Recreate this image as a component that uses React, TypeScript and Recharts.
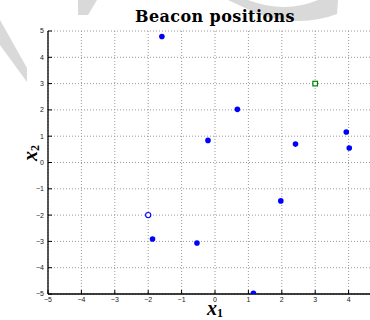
import { ScatterChart, Scatter, XAxis, YAxis, CartesianGrid } from "recharts"

// beacon positions
const beaconX = [-1.59, 0.67, -0.21, 2.41, 3.93, 4.02, 1.97, -1.87, -0.54, 1.15]
const beaconY = [4.79, 2.02, 0.84, 0.7, 1.16, 0.55, -1.46, -2.91, -3.06, -4.97]
const startX = [-2]
const startY = [-2]
const targetX = [3]
const targetY = [3]
const axisTicks = [-5, -4, -3, -2, -1, 0, 1, 2, 3, 4, 5]
// the x = 5 column falls outside the cropped figure
const xTicks = [-5, -4, -3, -2, -1, 0, 1, 2, 3, 4]

const toPoints = (xs: number[], ys: number[]) => xs.map((x, i) => ({ x, y: ys[i] }))

const beacons = toPoints(beaconX, beaconY)
const start = toPoints(startX, startY)
const target = toPoints(targetX, targetY)

const tickStyle = { fontSize: 7, fill: "#222", fontFamily: "Liberation Sans, Arial, sans-serif" }
const fmt = (v: number) => (v < 0 ? "\u2212" + Math.abs(v) : String(v))

const Dot = (props: any) => <circle cx={props.cx} cy={props.cy} r={2.8} fill="#0000ff" />
const OpenDot = (props: any) => (
  <circle cx={props.cx} cy={props.cy} r={2.6} fill="#fff" stroke="#0000ff" strokeWidth={1.1} />
)
const Square = (props: any) => (
  <rect x={props.cx - 2.3} y={props.cy - 2.3} width={4.6} height={4.6} fill="#fff" stroke="#008000" strokeWidth={1.2} />
)

const labelFont = { fontFamily: "Liberation Serif, serif", fontWeight: "bold" as const }

export default function App() {
  return (
    <div style={{ position: "fixed", left: 0, top: 0, width: 370, height: 320, overflow: "hidden", background: "#fff" }}>
      {/* faint watermark behind the figure */}
      <svg width={370} height={320} style={{ position: "absolute", left: 0, top: 0 }}>
        <g fill="#d9d9d9">
          <polygon points="78,0 97,0 88,15 78,15" />
          <polygon points="0,20 27,68 27,82 0,45" />
          <path d="M228,0 L248,0 Q285,14 318,0 L338,0 L337,14 Q300,28 258,14 Z" />
        </g>
      </svg>
      <div style={{ position: "absolute", left: 0, top: 0 }}>
        <ScatterChart width={400} height={320} margin={{ top: 31, right: 18, bottom: 0, left: 0 }}>
          <CartesianGrid stroke="#999" strokeDasharray="1 2" fill="#fff" fillOpacity={1} />
          <XAxis
            type="number"
            dataKey="x"
            domain={[-5, 5]}
            ticks={xTicks}
            height={26}
            tickSize={-4}
            tickMargin={7}
            tick={tickStyle}
            tickFormatter={fmt}
            axisLine={{ stroke: "#000", strokeWidth: 1.3 }}
            tickLine={{ stroke: "#000" }}
            allowDataOverflow
          />
          <XAxis
            xAxisId="top"
            orientation="top"
            type="number"
            dataKey="x"
            domain={[-5, 5]}
            ticks={xTicks}
            height={0}
            tickSize={-4}
            tickFormatter={() => ""}
            axisLine={{ stroke: "#000", strokeWidth: 1.3 }}
            tickLine={{ stroke: "#000" }}
            allowDataOverflow
          />
          <YAxis
            type="number"
            dataKey="y"
            domain={[-5, 5]}
            ticks={axisTicks}
            width={48}
            tickSize={-4}
            tickMargin={8}
            tick={tickStyle}
            tickFormatter={fmt}
            axisLine={{ stroke: "#000", strokeWidth: 1.3 }}
            tickLine={{ stroke: "#000" }}
            allowDataOverflow
          />
          <Scatter data={beacons} shape={Dot} isAnimationActive={false} />
          <Scatter data={start} shape={OpenDot} isAnimationActive={false} />
          <Scatter data={target} shape={Square} isAnimationActive={false} />
        </ScatterChart>
      </div>
      <svg width={370} height={320} style={{ position: "absolute", left: 0, top: 0, pointerEvents: "none" }}>
        <text
          x={215}
          y={22}
          textAnchor="middle"
          fontFamily="DejaVu Serif, serif"
          fontWeight="bold"
          fontSize={16}
          letterSpacing={0.4}
          fill="#000"
        >
          Beacon positions
        </text>
        <text x={215} y={315} textAnchor="middle" {...labelFont} fill="#000">
          <tspan fontStyle="italic" fontSize={20}>x</tspan>
          <tspan fontSize={12} dy={2}>1</tspan>
        </text>
        <text
          x={37}
          y={153}
          textAnchor="middle"
          transform="rotate(-90 37 153)"
          {...labelFont}
          fill="#000"
        >
          <tspan fontStyle="italic" fontSize={20}>x</tspan>
          <tspan fontSize={12} dy={2}>2</tspan>
        </text>
      </svg>
    </div>
  )
}
